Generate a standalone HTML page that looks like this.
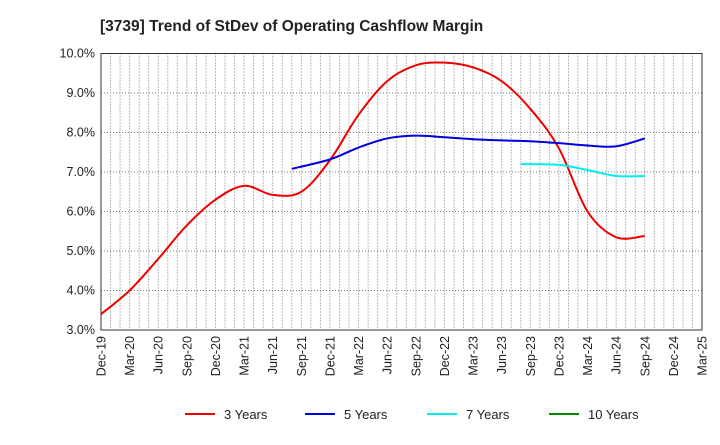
<!DOCTYPE html>
<html><head><meta charset="utf-8"><style>
body{margin:0;background:#fff;font-family:"Liberation Sans",Arial,sans-serif}
svg text{font-family:"Liberation Sans",Arial,sans-serif}
</style></head><body>
<svg id="c" width="720" height="440" xmlns="http://www.w3.org/2000/svg">
<text x="100" y="31" font-size="15.5" font-weight="bold" fill="#222">[3739]  Trend of StDev of Operating Cashflow Margin</text>
<g id="grid"></g><g id="axes"></g><g id="series"></g><g id="legend"></g>
</svg>
<script>
const xLabels=["Dec-19","Mar-20","Jun-20","Sep-20","Dec-20","Mar-21","Jun-21","Sep-21","Dec-21","Mar-22","Jun-22","Sep-22","Dec-22","Mar-23","Jun-23","Sep-23","Dec-23","Mar-24","Jun-24","Sep-24","Dec-24","Mar-25"];
const yTicks=[3,4,5,6,7,8,9,10];
const m3=[0,3,6,9,12,15,18,21,24,27,30,33,36,39,42,45,48,51,54,57];
const v3=[3.4,4.0,4.8,5.65,6.3,6.65,6.42,6.5,7.3,8.45,9.3,9.7,9.77,9.65,9.3,8.6,7.6,6.0,5.35,5.38];
const m5=[20,24,27,30,33,36,39,42,45,48,51,54,57];
const v5=[7.08,7.32,7.62,7.85,7.92,7.88,7.83,7.8,7.78,7.73,7.67,7.65,7.85];
const m7=[44,48,51,54,57];
const v7=[7.2,7.18,7.05,6.9,6.9];
const m10=[];const v10=[];
const L=101,R=702,T=53.5,B=330,NM=63;
const X=m=>L+(R-L)*m/NM, Y=v=>B-(v-3)/7*(B-T);
const ns="http://www.w3.org/2000/svg";
function mk(p,t,a){const e=document.createElementNS(ns,t);for(const k in a)e.setAttribute(k,a[k]);p.appendChild(e);return e;}
const g=document.getElementById('grid'),ax=document.getElementById('axes'),s=document.getElementById('series'),lg=document.getElementById('legend');
for(let m=1;m<NM;m++){const l=mk(g,'line',{x1:X(m),x2:X(m),y1:T,y2:B,stroke:'#777','stroke-dasharray':'1,2','stroke-width':1});
}
yTicks.forEach(v=>{const l=mk(g,'line',{x1:L,x2:R,y1:Y(v),y2:Y(v),stroke:'#777','stroke-dasharray':'1,2','stroke-width':1});

const t=mk(ax,'text',{x:L-6,y:Y(v)+4,'text-anchor':'end','font-size':12.5,fill:'#222'});t.textContent=v.toFixed(1)+'%';
});
const fr=mk(ax,'rect',{x:L,y:T,width:R-L,height:B-T,fill:'none',stroke:'#333','stroke-width':1});

xLabels.forEach((lab,i)=>{const x=X(i*3);const t=mk(ax,'text',{x:0,y:0,'text-anchor':'end','font-size':12.5,fill:'#222',transform:`translate(${x+4.5},${B+6}) rotate(-90)`});t.textContent=lab;
});
function path(ms,vs){const p=ms.map((m,i)=>[X(m),Y(vs[i])]);if(!p.length)return'';let d=`M${p[0][0]},${p[0][1]}`;
for(let i=0;i<p.length-1;i++){const p0=p[i-1]||p[i],p1=p[i],p2=p[i+1],p3=p[i+2]||p2;
d+=` C${p1[0]+(p2[0]-p0[0])/6},${p1[1]+(p2[1]-p0[1])/6} ${p2[0]-(p3[0]-p1[0])/6},${p2[1]-(p3[1]-p1[1])/6} ${p2[0]},${p2[1]}`;}return d;}
const ser=[[m3,v3,'#e00','3 Years',185],[m5,v5,'#00d','5 Years',305],[m7,v7,'#0ee','7 Years',427],[m10,v10,'#080','10 Years',549]];
ser.forEach(([m,v,c,n,lx])=>{if(m.length){const p=mk(s,'path',{d:path(m,v),fill:'none',stroke:c,'stroke-width':2});
}
const l=mk(lg,'line',{x1:lx,x2:lx+30,y1:414,y2:414,stroke:c,'stroke-width':2});

const t=mk(lg,'text',{x:lx+39,y:419,'font-size':13,fill:'#222'});t.textContent=n;
});
</script>
</body></html>
